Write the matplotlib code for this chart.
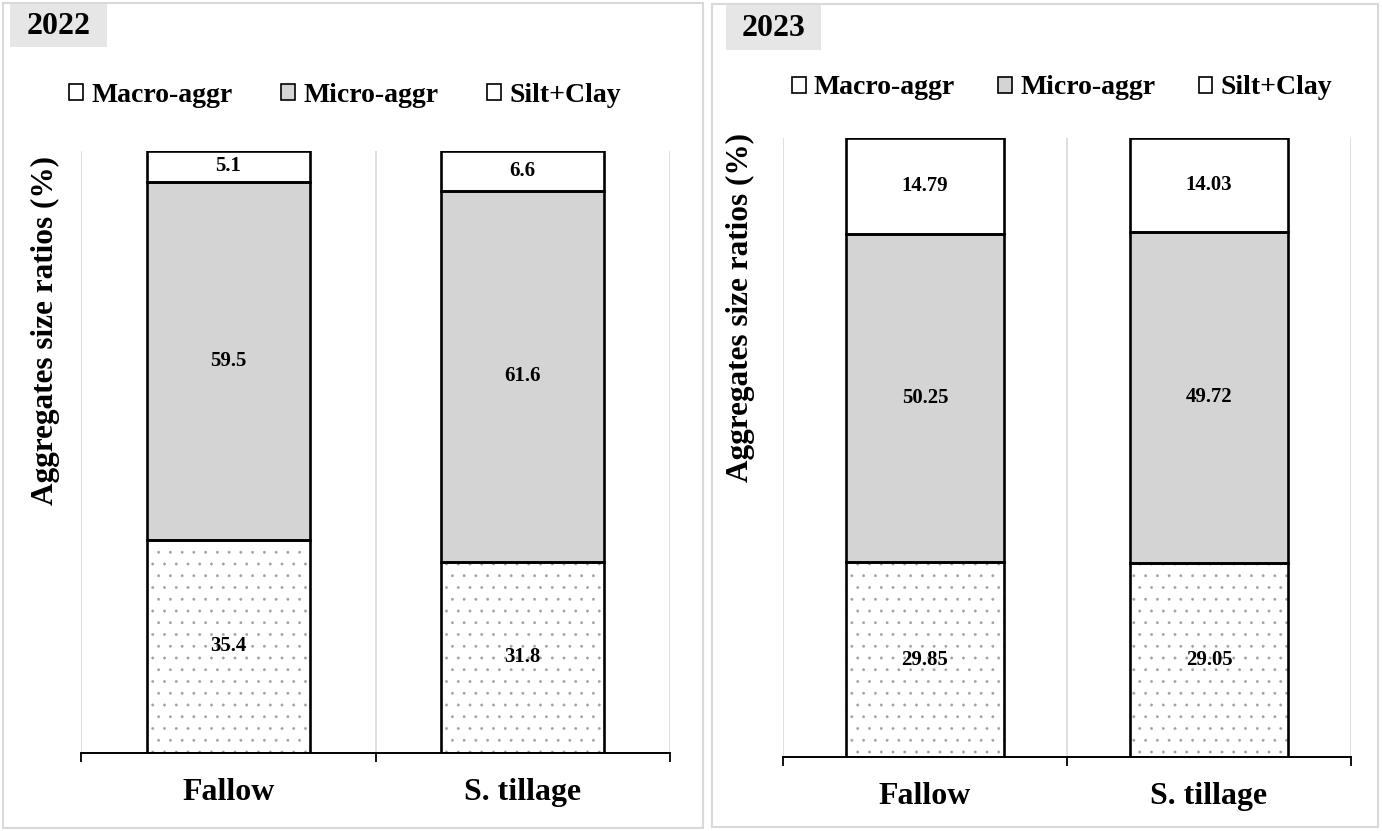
import numpy as np
import matplotlib
matplotlib.use("Agg")
import matplotlib.pyplot as plt
from matplotlib.patches import Rectangle, Patch

# ---------------- data ----------------
categories = ["Fallow", "S. tillage"]
series_names = ["Macro-aggr", "Micro-aggr", "Silt+Clay"]
years = ["2022", "2023"]
macro_2022 = [35.4, 31.8]
micro_2022 = [59.5, 61.6]
silt_2022 = [5.1, 6.6]
macro_2023 = [29.85, 29.05]
micro_2023 = [50.25, 49.72]
silt_2023 = [14.79, 14.03]
label_fmt = ["{:.1f}", "{:.2f}"]
ylabel = "Aggregates size ratios (%)"

DPI = 141
K = 100.0 / DPI  # sizes below are given as if at 100 dpi

plt.rcParams['font.family'] = ['Liberation Serif', 'DejaVu Serif']
plt.rcParams['font.weight'] = 'bold'
plt.rcParams['hatch.color'] = '#a0a0a0'
plt.rcParams['hatch.linewidth'] = 0.3 * K

W, H = 1382, 831
fig = plt.figure(figsize=(W / DPI, H / DPI), dpi=DPI)
fig.patch.set_facecolor('white')


def fx(px):
    return px / W


def fy(py):
    return 1 - py / H


def add_rect(x0, y0, x1, y1, **kw):
    r = Rectangle((fx(x0), fy(y1)), fx(x1 - x0), (y1 - y0) / H,
                  transform=fig.transFigure, **kw)
    fig.patches.append(r)
    return r


panels = [
    dict(border=(3, 3, 703, 828), axes=(81, 151, 670, 753), ybox=(10, 4, 107, 47),
         legend_c=(345, 95), ylab=(45, 331), colsp=1.75),
    dict(border=(712, 4, 1378, 827), axes=(783, 138, 1351, 757), ybox=(726, 5, 821, 50),
         legend_c=(1062, 88), ylab=(740, 307), colsp=1.55),
]
data = [
    (macro_2022, micro_2022, silt_2022),
    (macro_2023, micro_2023, silt_2023),
]

face_colors = ['white', '#d4d4d4', 'white']
hatches = ['..', None, None]

for i, p in enumerate(panels):
    bx0, by0, bx1, by1 = p['border']
    add_rect(bx0, by0, bx1, by1, facecolor='none', edgecolor='#d9d9d9', lw=1.5 * K, zorder=0)

    yx0, yy0, yx1, yy1 = p['ybox']
    add_rect(yx0, yy0, yx1, yy1, facecolor='#e6e6e6', edgecolor='none', zorder=1)
    fig.text(fx((yx0 + yx1) / 2), fy((yy0 + yy1) / 2 + 1), years[i], ha='center', va='center',
             fontsize=23 * K, fontweight='bold', zorder=2)

    ax0, ay0, ax1, ay1 = p['axes']
    ax = fig.add_axes([fx(ax0), fy(ay1), fx(ax1 - ax0), (ay1 - ay0) / H])
    vals = np.array(data[i], dtype=float)
    totals = vals.sum(axis=0)
    pct = vals / totals * 100.0
    x = np.arange(len(categories))
    bottom = np.zeros(len(categories))
    width = 0.555
    for s in range(len(series_names)):
        if hatches[s]:
            ax.bar(x, pct[s], width, bottom=bottom, facecolor=face_colors[s],
                   edgecolor='#a0a0a0', hatch=hatches[s], lw=0, zorder=2)
        else:
            ax.bar(x, pct[s], width, bottom=bottom, facecolor=face_colors[s],
                   edgecolor='none', lw=0, zorder=2)
        ax.bar(x, pct[s], width, bottom=bottom, fill=False, edgecolor='black',
               lw=1.9 * K, zorder=3)
        for j in range(len(categories)):
            ax.text(x[j], bottom[j] + pct[s][j] / 2, label_fmt[i].format(vals[s][j]),
                    ha='center', va='center', fontsize=15 * K, fontweight='bold', zorder=4)
        bottom = bottom + pct[s]

    ax.set_xlim(-0.5, len(categories) - 0.5)
    ax.set_ylim(0, 100)
    ax.set_xticks(x)
    ax.set_xticklabels(categories, fontsize=23 * K, fontweight='bold')
    ax.set_xticks(np.arange(-0.5, len(categories)), minor=True)
    ax.tick_params(axis='x', which='major', length=0, pad=18 * K)
    ax.tick_params(axis='x', which='minor', length=6.5 * K, width=1.3 * K, direction='out',
                   color='black')
    ax.set_yticks([])
    ax.grid(which='minor', axis='x', color='#d9d9d9', lw=1.2 * K, zorder=0)
    ax.set_axisbelow(True)
    for sp in ['left', 'right', 'top']:
        ax.spines[sp].set_visible(False)
    ax.spines['bottom'].set_linewidth(1.4 * K)
    ax.spines['bottom'].set_zorder(5)
    ax.patch.set_alpha(0)

    fig.text(fx(p['ylab'][0]), fy(p['ylab'][1]), ylabel, rotation=90, ha='center', va='center',
             fontsize=22.5 * K, fontweight='bold')

    handles = [Patch(facecolor=face_colors[s], edgecolor='black', lw=1.2 * K) for s in range(3)]
    fig.legend(handles, series_names, loc='center',
               bbox_to_anchor=(fx(p['legend_c'][0]), fy(p['legend_c'][1])),
               ncol=3, frameon=False,
               prop=dict(family='Liberation Serif', weight='bold', size=20 * K),
               handlelength=0.5, handleheight=0.5, handletextpad=0.3,
               columnspacing=p['colsp'], borderaxespad=0, borderpad=0)

fig.savefig("out.png", dpi=DPI)
